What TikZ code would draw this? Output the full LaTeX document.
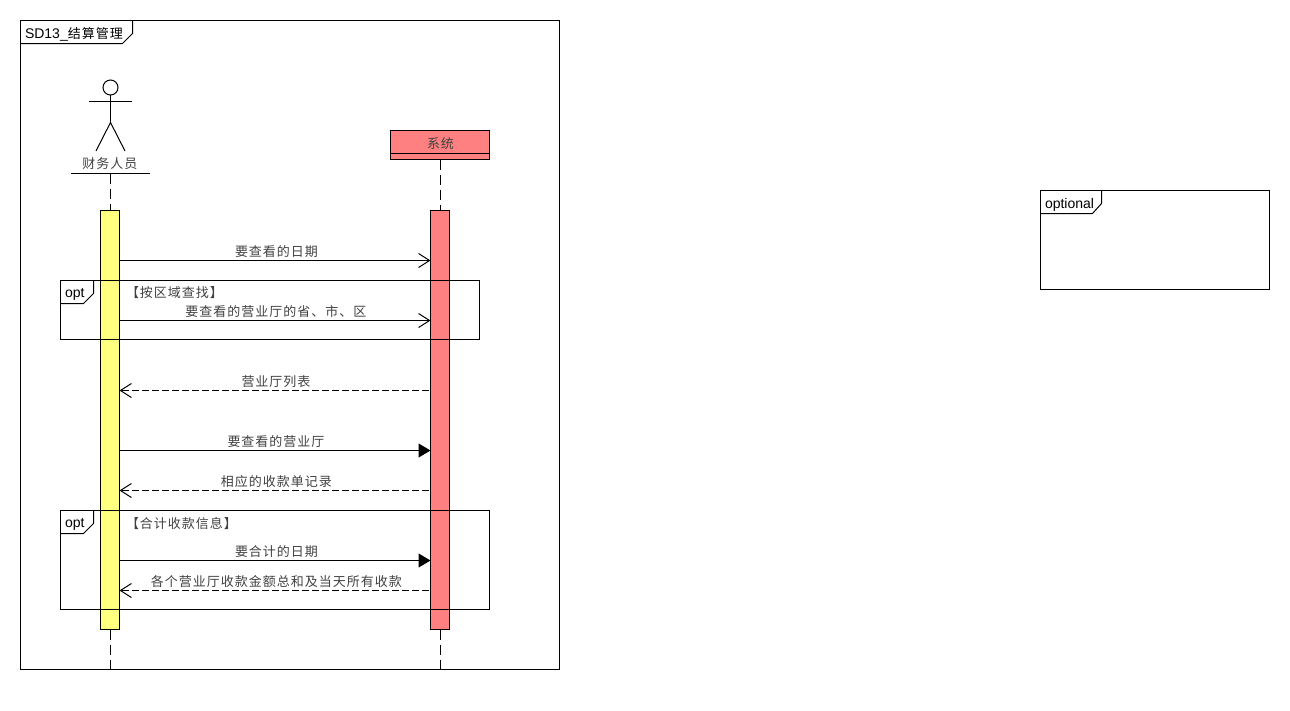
\documentclass[tikz,border=0pt]{standalone}
\usepackage{fontspec}
\setmainfont{Liberation Sans}
\newfontfamily\cjk[LetterSpace=7.7]{Noto Sans CJK SC}
\usetikzlibrary{arrows.meta}
\definecolor{ylw}{HTML}{FFFF80}
\definecolor{rd}{HTML}{FF8080}
\definecolor{txt}{HTML}{404040}
\tikzset{
  box/.style={draw=black,line width=1pt,inner sep=0pt,outer sep=0pt,anchor=north west},
  framebox/.style={box,fill=none},
  bar/.style={box,minimum width=19pt,minimum height=419pt},
  tabline/.style={draw=black,line width=1pt},
  lab/.style={inner sep=0pt,outer sep=0pt,font=\fontsize{13}{14}\selectfont\cjk,text=txt,anchor=center},
  tabtext/.style={inner sep=0pt,outer sep=0pt,font=\fontsize{14}{15}\selectfont,text=black,anchor=west},
  lifeline/.style={draw=black,line width=1pt,dash pattern=on 10pt off 5pt},
  sync/.style={draw=black,line width=1pt,-{Triangle[length=12pt,width=14pt]}},
  call/.style={draw=black,line width=1pt,-{Straight Barb[length=11pt,width=14pt,line width=1pt]}},
  ret/.style={draw=black,line width=1pt,dash pattern=on 7pt off 3pt,shorten <=2pt,-{Straight Barb[length=11pt,width=14pt,line width=1pt,line cap=butt]}},
}
\begin{document}
\begin{tikzpicture}[x=1pt,y=-1pt,line join=miter]
\useasboundingbox (0,0) rectangle (1290,710);
% actor
\node[draw=black,line width=1pt,circle,minimum size=15pt,inner sep=0pt,outer sep=0pt] (head) at (110.5,87.5) {};
\coordinate (hip) at (110.5,122.5);
\coordinate (armL) at (89,101.5);
\coordinate (armR) at (132,101.5);
\coordinate (legL) at (96,151);
\coordinate (legR) at (125,151);
\draw[line width=1pt] (head.south) -- (hip);
\draw[line width=1pt] (armL) -- (armR);
\draw[line width=1pt] (legL) -- (hip) -- (legR);
\node[lab] (actorname) at (110,164) {财务人员};
\coordinate (ulL) at (71,173.5);
\coordinate (ulR) at (150,173.5);
\draw[line width=1pt] (ulL) -- (ulR);
\coordinate (actortop) at (110.5,173.5);
% system
\node[box,fill=rd,minimum width=99pt,minimum height=29pt] (sys) at (390.5,130.5) {};
\coordinate (divL) at (390.5,153.5);
\coordinate (divR) at (489.5,153.5);
\draw[line width=1pt] (divL) -- (divR);
\node[lab] (sysname) at (440.5,144) {系统};
% lifelines
\coordinate (end1) at (110.5,670);
\coordinate (end2) at (440.5,670);
\node[bar,fill=ylw] (bar1) at (100.5,210.5) {};
\node[bar,fill=rd] (bar2) at (430.5,210.5) {};
\draw[lifeline] (actortop) -- (bar1.north -| actortop);
\draw[lifeline] (sys.south -| end2) -- (bar2.north -| end2);
\draw[lifeline] (bar1.south -| end1) -- (end1);
\draw[lifeline] (bar2.south -| end2) -- (end2);
% messages
\coordinate (y1) at (0,260.5);
\coordinate (y2) at (0,320.5);
\coordinate (y3) at (0,390.5);
\coordinate (y4) at (0,450.5);
\coordinate (y5) at (0,490.5);
\coordinate (y6) at (0,560.5);
\coordinate (y7) at (0,590.5);
\draw[call] (bar1.east |- y1) -- (bar2.west |- y1);
\draw[call] (bar1.east |- y2) -- (bar2.west |- y2);
\draw[ret] (bar2.west |- y3) -- (bar1.east |- y3);
\draw[sync] (bar1.east |- y4) -- (bar2.west |- y4);
\draw[ret] (bar2.west |- y5) -- (bar1.east |- y5);
\draw[sync] (bar1.east |- y6) -- (bar2.west |- y6);
\draw[ret] (bar2.west |- y7) -- (bar1.east |- y7);
\node[lab] (m1) at (276.5,252) {要查看的日期};
\node[lab] (m2) at (276,312) {要查看的营业厅的省、市、区};
\node[lab] (m3) at (276,382) {营业厅列表};
\node[lab] (m4) at (276,442) {要查看的营业厅};
\node[lab] (m5) at (276.5,482) {相应的收款单记录};
\node[lab] (m6) at (276.5,552) {要合计的日期};
\node[lab] (m7) at (276.5,582) {各个营业厅收款金额总和及当天所有收款};
% main frame
\node[framebox,minimum width=539pt,minimum height=649pt] (main) at (20.5,20.5) {};
\draw[tabline] (132.5,20.5) -- (132.5,33.5) -- (122.5,43.5) -- (20.5,43.5);
\node[tabtext] (maintitle) at (25,34.5) {SD13\_{\fontsize{13}{14}\selectfont\cjk 结算管理}};
% opt 1
\node[framebox,minimum width=419pt,minimum height=59pt] (opt1) at (60.5,280.5) {};
\draw[tabline] (93.5,280.5) -- (93.5,293.5) -- (83.5,303.5) -- (60.5,303.5);
\node[tabtext] (opt1t) at (65,294.5) {opt};
\node[lab,anchor=west] (g1) at (126,293) {【按区域查找】};
% opt 2
\node[framebox,minimum width=429pt,minimum height=99pt] (opt2) at (60.5,510.5) {};
\draw[tabline] (93.5,510.5) -- (93.5,523.5) -- (83.5,533.5) -- (60.5,533.5);
\node[tabtext] (opt2t) at (65,524.5) {opt};
\node[lab,anchor=west] (g2) at (126,524) {【合计收款信息】};
% optional
\node[framebox,minimum width=229pt,minimum height=99pt] (optional) at (1040.5,190.5) {};
\draw[tabline] (1101.5,190.5) -- (1101.5,203.5) -- (1092.5,213.5) -- (1040.5,213.5);
\node[tabtext] (optionalt) at (1045,204.5) {optional};
\end{tikzpicture}
\end{document}
